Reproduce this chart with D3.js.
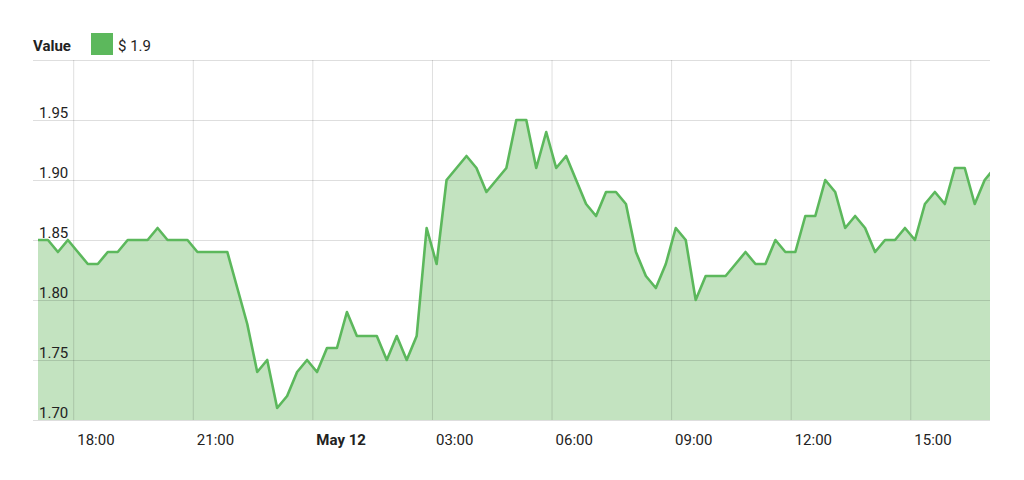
<!DOCTYPE html>
<html>
<head>
<meta charset="utf-8">
<script src="https://cdn.jsdelivr.net/npm/d3@7"></script>
<style>
  body { margin: 0; background: #fff; font-family: Roboto, "Open Sans", sans-serif; }
  svg text { fill: #222; }
</style>
</head>
<body>
<div id="chart"></div>
<script>
// precio cada 15 minutos, desde el 11 de mayo 17:07
const startTime = new Date(2018, 4, 11, 17, 7);
const stepMinutes = 15;
const endTime = new Date(2018, 4, 12, 17, 0);

const prices = [
  1.85, 1.85, 1.84, 1.85, 1.84, 1.83, 1.83, 1.84, 1.84, 1.85,
  1.85, 1.85, 1.86, 1.85, 1.85, 1.85, 1.84, 1.84, 1.84, 1.84,
  1.81, 1.78, 1.74, 1.75, 1.71, 1.72, 1.74, 1.75, 1.74, 1.76,
  1.76, 1.79, 1.77, 1.77, 1.77, 1.75, 1.77, 1.75, 1.77, 1.86,
  1.83, 1.90, 1.91, 1.92, 1.91, 1.89, 1.90, 1.91, 1.95, 1.95,
  1.91, 1.94, 1.91, 1.92, 1.90, 1.88, 1.87, 1.89, 1.89, 1.88,
  1.84, 1.82, 1.81, 1.83, 1.86, 1.85, 1.80, 1.82, 1.82, 1.82,
  1.83, 1.84, 1.83, 1.83, 1.85, 1.84, 1.84, 1.87, 1.87, 1.90,
  1.89, 1.86, 1.87, 1.86, 1.84, 1.85, 1.85, 1.86, 1.85, 1.88,
  1.89, 1.88, 1.91, 1.91, 1.88, 1.90, 1.91
];

const yTicks = [1.70, 1.75, 1.80, 1.85, 1.90, 1.95, 2.00];
const yLabels = ["1.70", "1.75", "1.80", "1.85", "1.90", "1.95", ""];
const xTicks = [
  new Date(2018, 4, 11, 18), new Date(2018, 4, 11, 21), new Date(2018, 4, 12, 0),
  new Date(2018, 4, 12, 3), new Date(2018, 4, 12, 6), new Date(2018, 4, 12, 9),
  new Date(2018, 4, 12, 12), new Date(2018, 4, 12, 15)
];
const xLabels = ["18:00", "21:00", "May 12", "03:00", "06:00", "09:00", "12:00", "15:00"];

const legendTitle = "Value";
const legendText = "$ 1.9";

const lineColor = "#5cb85c";
const fillColor = "#c3e3c0";

const data = prices.map((v, i) => ({
  time: new Date(startTime.getTime() + i * stepMinutes * 60000),
  value: v
}));

const W = 1024, H = 480;
const plot = { left: 38, right: 990, top: 60, bottom: 420 };

const svg = d3.select("#chart").append("svg")
  .attr("width", W)
  .attr("height", H);

const x = d3.scaleTime()
  .domain([startTime, endTime])
  .range([plot.left, plot.right]);

const y = d3.scaleLinear()
  .domain([1.70, 2.00])
  .range([plot.bottom, plot.top]);

svg.append("clipPath").attr("id", "clip")
  .append("rect")
  .attr("x", plot.left).attr("y", 0)
  .attr("width", plot.right - plot.left).attr("height", plot.bottom);

// area y linea
const area = d3.area()
  .x(d => x(d.time))
  .y0(y(1.70))
  .y1(d => y(d.value));

const line = d3.line()
  .x(d => x(d.time))
  .y(d => y(d.value));

svg.append("path")
  .datum(data)
  .attr("clip-path", "url(#clip)")
  .attr("fill", fillColor)
  .attr("d", area);

// rejilla horizontal
svg.append("g")
  .attr("class", "y-grid")
  .attr("transform", `translate(${plot.right},0)`)
  .call(d3.axisLeft(y).tickValues(yTicks).tickSize(plot.right - 33).tickFormat(""))
  .call(g => g.select(".domain").remove())
  .call(g => g.selectAll("line").attr("stroke", "#000").attr("stroke-opacity", 0.13));

// rejilla vertical
svg.append("g")
  .attr("class", "x-grid")
  .attr("transform", `translate(0,${plot.bottom})`)
  .call(d3.axisTop(x).tickValues(xTicks).tickSize(plot.bottom - plot.top).tickFormat(""))
  .call(g => g.select(".domain").remove())
  .call(g => g.selectAll("line").attr("stroke", "#000").attr("stroke-opacity", 0.13));

svg.append("path")
  .datum(data)
  .attr("clip-path", "url(#clip)")
  .attr("fill", "none")
  .attr("stroke", lineColor)
  .attr("stroke-width", 2.6)
  .attr("stroke-linejoin", "round")
  .attr("d", line);

// etiquetas eje Y
svg.append("g")
  .selectAll("text")
  .data(yTicks)
  .enter()
  .append("text")
  .attr("x", plot.left + 1)
  .attr("y", d => y(d) - 2)
  .attr("font-size", 15)
  .text((d, i) => yLabels[i]);

// etiquetas eje X
svg.append("g")
  .selectAll("text")
  .data(xTicks)
  .enter()
  .append("text")
  .attr("x", d => x(d) + 4)
  .attr("y", 445)
  .attr("font-size", 15)
  .attr("font-weight", (d, i) => xLabels[i] === "May 12" ? "bold" : "normal")
  .text((d, i) => xLabels[i]);

// leyenda
svg.append("text")
  .attr("x", 33).attr("y", 51)
  .attr("font-size", 15)
  .attr("font-weight", "bold")
  .text(legendTitle);

svg.append("rect")
  .attr("x", 91).attr("y", 33)
  .attr("width", 22).attr("height", 22)
  .attr("fill", lineColor);

svg.append("text")
  .attr("x", 118).attr("y", 51)
  .attr("font-size", 15)
  .text(legendText);
</script>
</body>
</html>
